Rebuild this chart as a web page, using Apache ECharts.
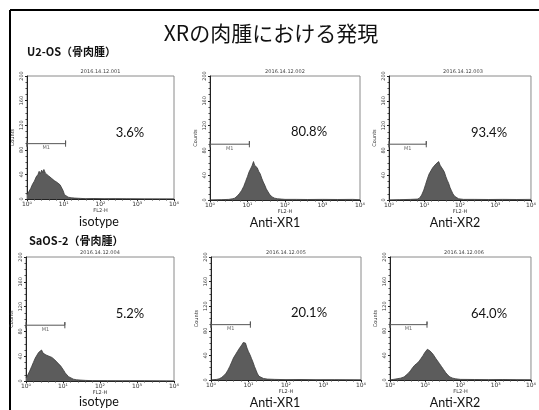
<!DOCTYPE html>
<html>
<head>
<meta charset="utf-8">
<script src="https://cdn.jsdelivr.net/npm/echarts@6/dist/echarts.min.js"></script>
<style>
  html, body { margin: 0; padding: 0; background: #fff; }
  #main { width: 539px; height: 410px; }
</style>
</head>
<body>
<div id="main"></div>
<script>
// text
const slideTitle = 'XRの肉腫における発現';
const rowLabels = ['U2-OS（骨肉腫）', 'SaOS-2（骨肉腫）'];
const panelTitles = ['2016.14.12.001', '2016.14.12.002', '2016.14.12.003',
                     '2016.14.12.004', '2016.14.12.005', '2016.14.12.006'];
const panelLabels = ['isotype', 'Anti-XR1', 'Anti-XR2', 'isotype', 'Anti-XR1', 'Anti-XR2'];
const positives = ['3.6%', '80.8%', '93.4%', '5.2%', '20.1%', '64.0%'];
const xTicks = ['10⁰', '10¹', '10²', '10³', '10⁴'];
const yTicks = [0, 40, 80, 120, 160, 200];

// M1 gate (decades, counts)
const gateStart = 0;
const gateEnd = 1.05;
const gateLevel = 90;

// histograms: [decade of FL2-H, counts]
const histU2Iso = [[0,7],[0.05,12],[0.1,17],[0.15,24],[0.2,29],[0.25,36],[0.3,40],[0.33,45],[0.36,41],[0.4,47],[0.43,43],[0.46,48],[0.5,42],[0.54,44],[0.58,38],[0.62,40],[0.66,34],[0.7,35],[0.74,30],[0.78,31],[0.82,27],[0.86,26],[0.9,23],[0.94,21],[0.98,14],[1.02,7],[1.06,4],[1.12,3],[1.2,2],[1.3,1.5],[1.45,1],[1.6,0.5],[1.8,0.8],[2.1,0.4],[2.4,0.6],[2.7,0.3],[3.2,0.2],[4,0]];
const histU2XR1 = [[0,0],[0.3,0.5],[0.5,1],[0.6,2],[0.66,3],[0.72,6],[0.78,10],[0.84,15],[0.9,22],[0.95,30],[1.0,38],[1.04,45],[1.08,50],[1.12,55],[1.16,62],[1.19,56],[1.22,57],[1.26,52],[1.3,46],[1.34,42],[1.38,35],[1.42,29],[1.46,24],[1.5,18],[1.55,13],[1.6,8],[1.66,5],[1.72,3],[1.8,2],[1.9,1.5],[2.0,1],[2.3,1],[2.6,0.8],[3.0,1],[3.4,0.8],[3.8,1],[4,0.5]];
const histU2XR2 = [[0,0],[0.3,0.5],[0.6,1],[0.8,1.5],[0.86,3],[0.92,8],[0.98,16],[1.03,25],[1.08,34],[1.13,42],[1.18,47],[1.23,52],[1.28,55],[1.32,58],[1.36,57],[1.4,62],[1.44,56],[1.48,53],[1.52,49],[1.56,45],[1.6,38],[1.64,32],[1.68,27],[1.72,20],[1.76,15],[1.8,10],[1.85,6],[1.9,3],[1.96,2],[2.1,1],[2.4,1],[2.8,0.8],[3.2,1],[3.6,0.8],[4,1]];
const histSaIso = [[0,5],[0.05,10],[0.1,16],[0.15,23],[0.2,30],[0.25,37],[0.3,42],[0.34,46],[0.38,44],[0.42,50],[0.46,45],[0.5,47],[0.54,42],[0.58,44],[0.62,40],[0.66,41],[0.7,38],[0.74,36],[0.78,34],[0.82,33],[0.86,29],[0.9,27],[0.94,24],[0.98,22],[1.02,17],[1.06,13],[1.1,10],[1.15,7],[1.2,5],[1.28,3],[1.36,2],[1.46,1.5],[1.6,1],[1.8,0.5],[2.2,0.4],[2.6,0.3],[3.2,0.3],[4,0]];
const histSaXR1 = [[0,0],[0.15,1],[0.22,2],[0.28,4],[0.34,7],[0.4,11],[0.45,16],[0.5,22],[0.55,29],[0.6,36],[0.65,41],[0.7,46],[0.74,50],[0.78,53],[0.82,57],[0.86,61],[0.89,64],[0.92,60],[0.96,52],[1.0,46],[1.04,41],[1.08,35],[1.12,29],[1.16,22],[1.2,16],[1.24,10],[1.28,6],[1.32,4],[1.4,2.5],[1.5,1.5],[1.7,1],[2.0,0.6],[2.4,0.8],[2.8,0.4],[3.3,0.5],[4,0.3]];
const histSaXR2 = [[0,0],[0.1,1],[0.2,2],[0.3,3],[0.4,5],[0.46,8],[0.52,11],[0.58,15],[0.64,20],[0.7,24],[0.76,27],[0.82,30],[0.88,35],[0.94,40],[0.98,44],[1.02,47],[1.06,50],[1.1,48],[1.14,47],[1.18,44],[1.22,42],[1.26,39],[1.3,35],[1.34,32],[1.4,27],[1.46,22],[1.52,17],[1.58,12],[1.64,8],[1.7,5],[1.78,3],[1.86,2],[2.0,1],[2.4,0.8],[2.8,0.6],[3.2,0.8],[3.6,0.5],[4,0.5]];
const hists = [histU2Iso, histU2XR1, histU2XR2, histSaIso, histSaXR1, histSaXR2];

// plot boxes on the slide: [left, top, width, height]
const boxes = [
  [27, 76, 147, 123], [210, 76, 150, 124], [389, 76, 148, 124],
  [26, 257, 148, 124], [211, 257, 150, 123], [390, 257, 148, 123]
];
// centres of the percentage and sample captions
const pctAt = [[130, 133], [309, 132], [489, 133], [130, 314], [309, 313], [489, 314]];
const capAt = [[99, 222], [275, 223], [455, 223], [99, 402], [275, 403], [455, 403]];

const latin = 'Lato, "Noto Sans CJK JP", sans-serif';
const cjk = '"Noto Sans CJK JP", sans-serif';
const chart = echarts.init(document.getElementById('main'), null, { renderer: 'canvas' });

let grid = [], xAxis = [], yAxis = [], series = [], graphic = [];

boxes.forEach((b, i) => {
  grid.push({ left: b[0], top: b[1], width: b[2], height: b[3], show: true,
    borderColor: '#8a8a8a', borderWidth: 1, backgroundColor: 'transparent' });
  xAxis.push({
    gridIndex: i, type: 'value', min: 0, max: 4, interval: 1,
    name: 'FL2-H', nameLocation: 'middle', nameGap: 9,
    nameTextStyle: { fontSize: 5, color: '#333', fontFamily: 'DejaVu Sans' },
    axisLine: { lineStyle: { color: '#222', width: 1 } },
    axisTick: { length: 2, lineStyle: { color: '#222' } },
    minorTick: { show: true, splitNumber: 5, length: 1.5, lineStyle: { color: '#444' } },
    splitLine: { show: false },
    axisLabel: { fontSize: 6, margin: 2, color: '#333', fontFamily: 'DejaVu Sans',
      formatter: v => xTicks[Math.round(v)] }
  });
  yAxis.push({
    gridIndex: i, type: 'value', min: 0, max: 200, interval: 40,
    name: 'Counts', nameLocation: 'middle', nameGap: 12,
    nameTextStyle: { fontSize: 5, color: '#333', fontFamily: 'DejaVu Sans' },
    axisLine: { lineStyle: { color: '#222', width: 1 } },
    axisTick: { length: 2, lineStyle: { color: '#222' } },
    minorTick: { show: true, splitNumber: 4, length: 1.5, lineStyle: { color: '#444' } },
    splitLine: { show: false },
    axisLabel: { fontSize: 5, margin: 3, rotate: 90, color: '#333', fontFamily: 'DejaVu Sans',
      formatter: v => yTicks.indexOf(v) >= 0 ? String(v) : '' }
  });
  series.push({
    type: 'line', xAxisIndex: i, yAxisIndex: i, data: hists[i],
    showSymbol: false, smooth: false, silent: true,
    lineStyle: { color: '#3a3a3a', width: 0.8 },
    areaStyle: { color: '#5c5c5c', opacity: 1 }
  });
  // M1 gate with end bars
  series.push({
    type: 'line', xAxisIndex: i, yAxisIndex: i, showSymbol: false, silent: true,
    lineStyle: { color: '#555', width: 1 },
    data: [[gateStart, gateLevel + 5], [gateStart, gateLevel - 5], [gateStart, gateLevel],
           [gateEnd, gateLevel], [gateEnd, gateLevel + 5], [gateEnd, gateLevel - 5]]
  });
  series.push({
    type: 'scatter', xAxisIndex: i, yAxisIndex: i, symbolSize: 0, silent: true,
    data: [[(gateStart + gateEnd) / 2, gateLevel]],
    label: { show: true, formatter: 'M1', position: 'bottom', distance: 2,
      fontSize: 5, color: '#444', fontFamily: 'DejaVu Sans' }
  });
  // panel caption above box
  graphic.push({ type: 'text', x: b[0] + b[2] / 2, y: b[1] - 4,
    style: { text: panelTitles[i], fontSize: 5, fill: '#444', fontFamily: 'DejaVu Sans',
      textAlign: 'center', textVerticalAlign: 'middle' } });
  // percent positive
  graphic.push({ type: 'text', x: pctAt[i][0], y: pctAt[i][1],
    style: { text: positives[i], fontSize: 13, fill: '#111', fontFamily: latin,
      textAlign: 'center', textVerticalAlign: 'middle' } });
  // sample label under box
  graphic.push({ type: 'text', x: capAt[i][0], y: capAt[i][1],
    style: { text: panelLabels[i], fontSize: 12.5, fill: '#111', fontFamily: latin,
      textAlign: 'center', textVerticalAlign: 'middle' } });
});

// slide frame, title and row labels
graphic.push({ type: 'line', shape: { x1: 10, y1: 10, x2: 539, y2: 10 },
  style: { stroke: '#000', lineWidth: 2 } });
graphic.push({ type: 'line', shape: { x1: 10, y1: 10, x2: 10, y2: 410 },
  style: { stroke: '#000', lineWidth: 2 } });
graphic.push({ type: 'text', x: 271, y: 33,
  style: { text: slideTitle, fontSize: 21, fill: '#111', fontFamily: cjk,
    textAlign: 'center', textVerticalAlign: 'middle' } });
graphic.push({ type: 'text', x: 27, y: 52,
  style: { text: rowLabels[0], fontSize: 11, fontWeight: 'bold', fill: '#111', fontFamily: cjk,
    textVerticalAlign: 'middle' } });
graphic.push({ type: 'text', x: 29, y: 241,
  style: { text: rowLabels[1], fontSize: 11, fontWeight: 'bold', fill: '#111', fontFamily: cjk,
    textVerticalAlign: 'middle' } });

chart.setOption({
  animation: false,
  backgroundColor: '#fff',
  grid: grid,
  xAxis: xAxis,
  yAxis: yAxis,
  series: series,
  graphic: graphic
});
</script>
</body>
</html>
